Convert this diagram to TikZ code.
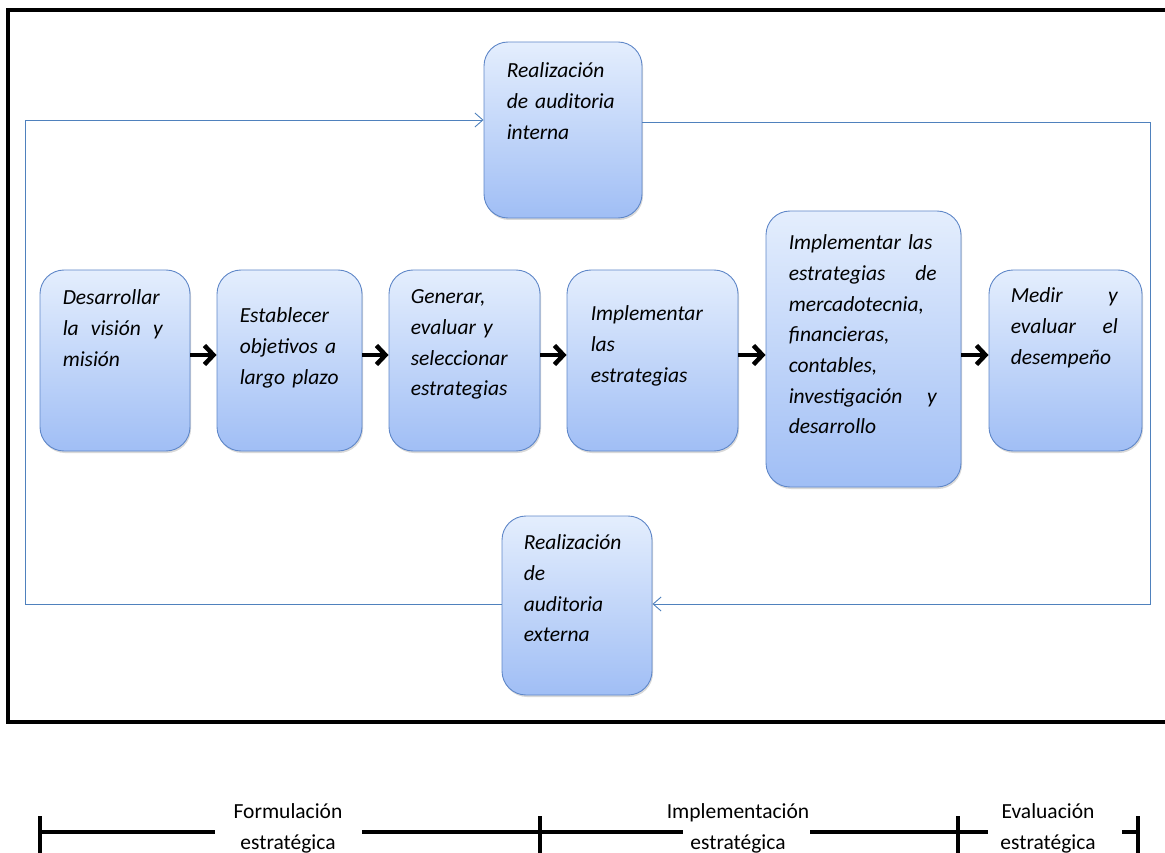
\documentclass[tikz,border=0pt]{standalone}
\usepackage{fontspec}
\setmainfont{Carlito}
\usetikzlibrary{arrows.meta,shadows}
\definecolor{bordecaja}{RGB}{95,135,200}
\definecolor{cajaclaro}{RGB}{228,238,253}
\definecolor{cajaoscuro}{RGB}{160,190,245}
\definecolor{lazoazul}{RGB}{79,129,189}
\tikzset{
  caja/.style={draw=bordecaja, line width=0.9pt, rounded corners=24pt, top color=cajaclaro, bottom color=cajaoscuro, drop shadow={shadow xshift=1pt,shadow yshift=-2pt,opacity=0.3}, inner sep=0pt},
  texto/.style={anchor=north west, inner sep=0pt, align=left, font=\itshape\fontsize{21.5}{30.7}\selectfont},
  flecha/.style={line width=4.5pt, -{Straight Barb[length=9pt,width=19pt]}},
  lazo/.style={draw=lazoazul, line width=0.9pt, -{Straight Barb[length=8pt,width=14pt]}},
  barra/.style={line width=3.5pt},
  etapa/.style={align=center, inner sep=0pt, font=\fontsize{21.5}{31}\selectfont}
}
\begin{document}
\begin{tikzpicture}[x=1pt,y=-1pt]
\useasboundingbox (0,0) rectangle (1165,853);
% marco
\draw[line width=4pt] (1175,10) -- (8,10) -- (8,722) -- (1175,722);

% auditorias
\node[caja, minimum width=158, minimum height=176] (interna) at (563,130) {};
\node[texto, text width=120] (tinterna) at ([xshift=23pt,yshift=-21pt]interna.north west) {Realización\\de auditoria\\interna};
\node[caja, minimum width=150, minimum height=179] (externa) at (577,605.5) {};
\node[texto, text width=110] (texterna) at ([xshift=22pt,yshift=-19pt]externa.north west) {Realización\\de\\auditoria\\externa};

% fila de procesos
\node[caja, minimum width=150, minimum height=181] (desarrollar) at (115,360.5) {};
\node[texto, text width=100] (tdesarrollar) at ([xshift=23pt,yshift=-20pt]desarrollar.north west) {Desarrollar\\la\hfill visión\hfill y\\misión};
\node[caja, minimum width=145, minimum height=181] (establecer) at (289.5,360.5) {};
\node[texto, text width=115] (testablecer) at ([xshift=23pt,yshift=-38pt]establecer.north west) {Establecer\\objetivos a\\largo plazo};
\node[caja, minimum width=151, minimum height=181] (generar) at (464.5,360.5) {};
\node[texto, text width=120] (tgenerar) at ([xshift=22pt,yshift=-20pt]generar.north west) {Generar,\\evaluar y\\seleccionar\\estrategias};
\node[caja, minimum width=171, minimum height=181] (implementar) at (652.5,360.5) {};
\node[texto, text width=130] (timplementar) at ([xshift=24pt,yshift=-36pt]implementar.north west) {Implementar\\las\\estrategias};
\node[caja, minimum width=195, minimum height=276] (areas) at (863.5,349) {};
\node[texto, text width=148] (tareas) at ([xshift=23pt,yshift=-24pt]areas.north west) {Implementar las\\estrategias\hfill de\\mercadotecnia,\\financieras,\\contables,\\investigación\hfill y\\desarrollo};
\node[caja, minimum width=153, minimum height=181] (medir) at (1065.5,360.5) {};
\node[texto, text width=107] (tmedir) at ([xshift=22pt,yshift=-18pt]medir.north west) {Medir\hfill y\\evaluar\hfill el\\desempeño};

\coordinate (fila) at (0,355);
\draw[flecha] (desarrollar.east |- fila) -- (establecer.west |- fila);
\draw[flecha] (establecer.east |- fila) -- (generar.west |- fila);
\draw[flecha] (generar.east |- fila) -- (implementar.west |- fila);
\draw[flecha] (implementar.east |- fila) -- (areas.west |- fila);
\draw[flecha] (areas.east |- fila) -- (medir.west |- fila);

% lazo de retroalimentacion
\coordinate (supizq) at (25,120);
\coordinate (supder) at (1150,122);
\coordinate (infder) at (1150,604);
\coordinate (infizq) at (25,604);
\draw[lazo] (externa.west |- infizq) -- (infizq) -- (supizq) -- (interna.west |- supizq);
\draw[lazo] (interna.east |- supder) -- (supder) -- (infder) -- (externa.east |- infder);

% etapas
\node[etapa] (formulacion) at (288,828) {Formulación\\estratégica};
\node[etapa] (implementacion) at (738,828) {Implementación\\estratégica};
\node[etapa] (evaluacion) at (1048,828) {Evaluación\\estratégica};
\draw[barra] (40,832) -- (215,832);
\draw[barra] (362,832) -- (683,832);
\draw[barra] (810,832) -- (988,832);
\draw[barra] (1122,832) -- (1138,832);
\foreach \x in {40,540,958,1138}
  \draw[barra] (\x,816) -- (\x,858);
\end{tikzpicture}
\end{document}
